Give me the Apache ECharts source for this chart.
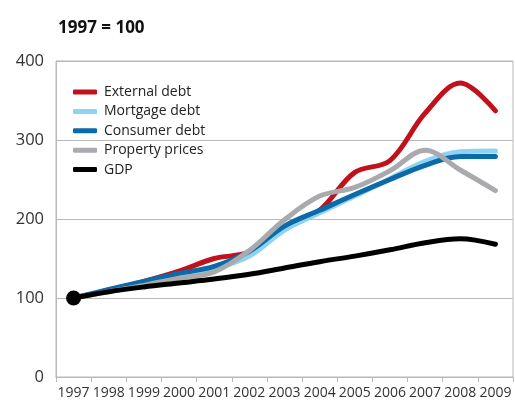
<!DOCTYPE html>
<html>
<head>
<meta charset="utf-8">
<script src="https://cdn.jsdelivr.net/npm/echarts@6/dist/echarts.min.js"></script>
<style>
  html, body { margin: 0; padding: 0; background: #fff; }
  #chart { width: 515px; height: 403px; }
</style>
</head>
<body>
<div id="chart"></div>
<script>
// Index values, 1997 = 100
const years = ['1997','1998','1999','2000','2001','2002','2003','2004','2005','2006','2007','2008','2009'];
const externalDebt  = [100, 110, 121, 134, 150, 158, 187, 211, 259, 274, 334, 372, 337];
const mortgageDebt  = [100, 110, 120, 128, 137, 153, 186, 208, 229, 251, 273, 285, 286];
const consumerDebt  = [100, 111, 121, 131, 140, 159, 191, 211, 231, 250, 268, 279, 279];
const propertyPrice = [100, 108, 116, 125, 133, 160, 199, 229, 240, 261, 287, 262, 236];
const gdp           = [100, 108, 114, 119, 124, 130, 138, 146, 153, 161, 170, 175, 168];
const yTicks = [0, 100, 200, 300, 400];

const FONT = 'Open Sans';
const GRID_COLOR = '#b9b9b9';

function lineSeries(name, data, color) {
  return {
    name: name,
    type: 'line',
    data: data,
    smooth: 0.35,
    showSymbol: false,
    symbol: 'none',
    lineStyle: { width: 5, color: color, cap: 'round', join: 'round' },
    itemStyle: { color: color },
    emphasis: { disabled: true }
  };
}

const chart = echarts.init(document.getElementById('chart'), null, { renderer: 'canvas' });
chart.setOption({
  animation: false,
  backgroundColor: '#fff',
  textStyle: { fontFamily: FONT },
  title: {
    text: '1997 = 100',
    left: 53,
    top: 15,
    textStyle: { fontFamily: FONT, fontSize: 17, fontWeight: 'bold', color: '#111' }
  },
  legend: {
    orient: 'vertical',
    left: 68,
    top: 79,
    itemWidth: 24,
    itemHeight: 5,
    itemGap: 3.4,
    icon: 'roundRect',
    selectedMode: false,
    data: ['External debt', 'Mortgage debt', 'Consumer debt', 'Property prices', 'GDP'],
    textStyle: { fontFamily: FONT, fontSize: 14, color: '#222', lineHeight: 16, padding: [0, 0, 0, 2] }
  },
  grid: {
    left: 56, right: 2, top: 61, bottom: 26,
    show: true, borderColor: GRID_COLOR, borderWidth: 1,
    containLabel: false
  },
  xAxis: {
    type: 'category',
    data: years,
    boundaryGap: true,
    axisLine: { show: true, lineStyle: { color: GRID_COLOR, width: 1 } },
    axisTick: { show: true, length: 5, lineStyle: { color: GRID_COLOR } },
    axisLabel: { interval: 0, fontFamily: FONT, fontSize: 14, color: '#333', margin: 9 },
    splitLine: { show: false }
  },
  yAxis: {
    type: 'value',
    min: yTicks[0],
    max: yTicks[yTicks.length - 1],
    interval: yTicks[1] - yTicks[0],
    axisLine: { show: true, lineStyle: { color: GRID_COLOR, width: 1 } },
    axisTick: { show: false },
    axisLabel: { fontFamily: FONT, fontSize: 16.5, color: '#333', margin: 12 },
    splitLine: { show: true, lineStyle: { color: GRID_COLOR, width: 1 } }
  },
  series: [
    lineSeries('External debt', externalDebt, '#c0121d'),
    lineSeries('Mortgage debt', mortgageDebt, '#8fd3f4'),
    lineSeries('Consumer debt', consumerDebt, '#0b6aa8'),
    lineSeries('Property prices', propertyPrice, '#a9aaae'),
    lineSeries('GDP', gdp, '#000000'),
    {
      name: 'base',
      type: 'scatter',
      data: [[years[0], gdp[0]]],
      symbol: 'circle',
      symbolSize: 15,
      itemStyle: { color: '#000', opacity: 1 },
      z: 5,
      emphasis: { disabled: true }
    }
  ]
});
</script>
</body>
</html>
